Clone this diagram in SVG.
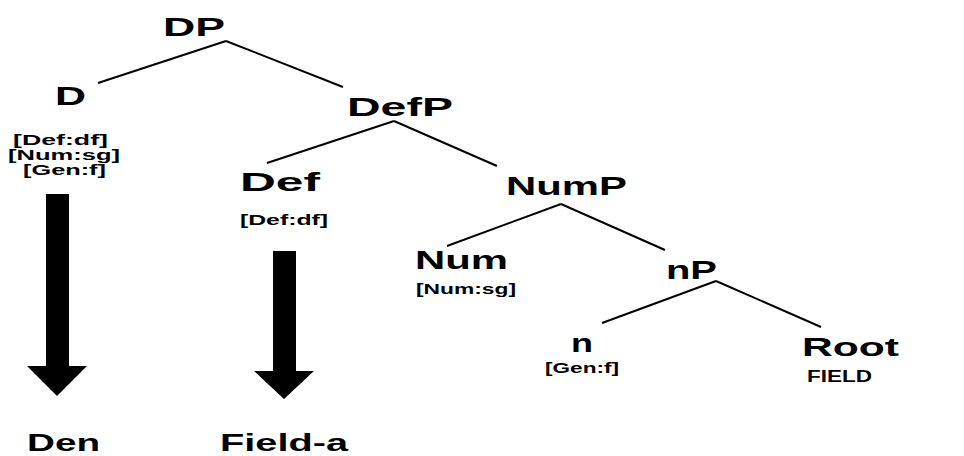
<svg xmlns="http://www.w3.org/2000/svg" width="964" height="456" viewBox="0 0 964 456">
<style>
.big{font-family:"Liberation Sans",Arial,sans-serif;font-weight:bold;font-size:26px;fill:#000}
.sm{font-family:"Liberation Sans",Arial,sans-serif;font-weight:bold;font-size:14px;fill:#000}
.edge{stroke:#000;stroke-width:2;fill:none}
.arrow{fill:#000}
</style>
<rect width="964" height="456" fill="#fff"/>
<g id="connectors">
<line class="edge" x1="226" y1="41" x2="98" y2="83"/>
<line class="edge" x1="226" y1="41" x2="343" y2="87"/>
<line class="edge" x1="394" y1="121" x2="267" y2="163"/>
<line class="edge" x1="394" y1="121" x2="497" y2="166"/>
<line class="edge" x1="561" y1="204" x2="447" y2="246"/>
<line class="edge" x1="561" y1="204" x2="665" y2="250"/>
<line class="edge" x1="716" y1="281" x2="602" y2="323"/>
<line class="edge" x1="716" y1="281" x2="821" y2="327"/>
<polygon class="arrow" points="46,194 69,194 69,366 87,366 57,396 27,366 46,366"/>
<polygon class="arrow" points="273,251 296,251 296,371 314,371 284,399 254,371 273,371"/>
</g>
<g id="node-DP"><text class="big" x="163" y="36" textLength="62" lengthAdjust="spacingAndGlyphs">DP</text></g>
<g id="node-D">
<text class="big" x="55" y="105" textLength="31" lengthAdjust="spacingAndGlyphs">D</text>
<text class="sm" x="13" y="145" textLength="95" lengthAdjust="spacingAndGlyphs">[Def:df]</text>
<text class="sm" x="8" y="160" textLength="112" lengthAdjust="spacingAndGlyphs">[Num:sg]</text>
<text class="sm" x="23" y="175" textLength="83" lengthAdjust="spacingAndGlyphs">[Gen:f]</text>
</g>
<g id="node-DefP"><text class="big" x="347" y="116" textLength="106" lengthAdjust="spacingAndGlyphs">DefP</text></g>
<g id="node-Def">
<text class="big" x="240" y="191" textLength="80" lengthAdjust="spacingAndGlyphs">Def</text>
<text class="sm" x="240" y="225" textLength="88" lengthAdjust="spacingAndGlyphs">[Def:df]</text>
</g>
<g id="node-NumP"><text class="big" x="506" y="195" textLength="121" lengthAdjust="spacingAndGlyphs">NumP</text></g>
<g id="node-Num">
<text class="big" x="415" y="269" textLength="93" lengthAdjust="spacingAndGlyphs">Num</text>
<text class="sm" x="416" y="294" textLength="100" lengthAdjust="spacingAndGlyphs">[Num:sg]</text>
</g>
<g id="node-nP"><text class="big" x="666" y="279" textLength="51" lengthAdjust="spacingAndGlyphs">nP</text></g>
<g id="node-n">
<text class="big" x="571" y="352" textLength="22" lengthAdjust="spacingAndGlyphs">n</text>
<text class="sm" x="545" y="373" textLength="74" lengthAdjust="spacingAndGlyphs">[Gen:f]</text>
</g>
<g id="node-Root">
<text class="big" x="802" y="356" textLength="97" lengthAdjust="spacingAndGlyphs">Root</text>
<text class="sm" x="807" y="382" textLength="65" lengthAdjust="spacingAndGlyphs" style="font-size:16px">FIELD</text>
</g>
<g id="node-Den"><text class="big" x="27" y="451" textLength="73" lengthAdjust="spacingAndGlyphs" style="font-size:23px">Den</text></g>
<g id="node-Field-a"><text class="big" x="220" y="451" textLength="128" lengthAdjust="spacingAndGlyphs" style="font-size:23px">Field-a</text></g>
</svg>
